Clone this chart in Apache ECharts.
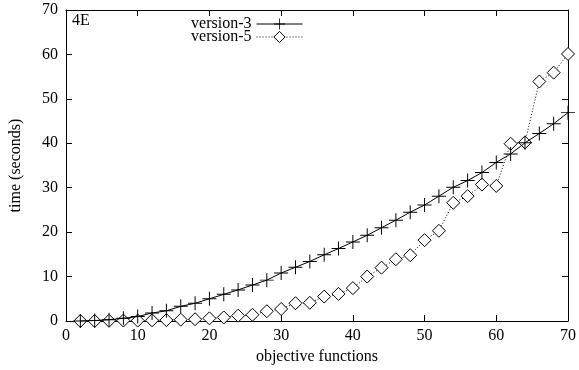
<!DOCTYPE html>
<html>
<head>
<meta charset="utf-8">
<script src="https://cdn.jsdelivr.net/npm/echarts@6/dist/echarts.min.js"></script>
<style>html,body{margin:0;padding:0;background:#fff}#c{width:579px;height:370px}</style>
</head>
<body>
<div id="c"></div>
<script>
const xValues = [2,4,6,8,10,12,14,16,18,20,22,24,26,28,30,32,34,36,38,40,42,44,46,48,50,52,54,56,58,60,62,64,66,68,70];
const version3 = [0,0.1,0.3,0.6,1.0,1.8,2.3,3.3,4.0,5.0,6.0,7.0,8.1,9.2,10.8,12.1,13.4,14.9,16.3,17.8,19.3,21.0,22.7,24.5,26.1,28.1,30.1,31.6,33.4,35.7,37.6,40.1,42.2,44.4,46.9];
const version5 = [0,0,0.05,0.1,0.1,0.15,0.2,0.3,0.4,0.6,0.8,1.2,1.4,2.2,2.7,4.0,4.1,5.5,6.1,7.4,10.0,12.0,13.9,14.8,18.2,20.3,26.6,28.1,30.7,30.4,39.9,40.2,53.9,55.9,60.1];
const seriesNames = ['version-3','version-5'];
const xTicks = [0,10,20,30,40,50,60,70];
const yTicks = [0,10,20,30,40,50,60,70];
const panelLabel = '4E';
const xTitle = 'objective functions';
const yTitle = 'time (seconds)';

const FONT = '"Liberation Serif", "DejaVu Serif", serif';
const plusPath = 'path://M0,0.465H1V0.535H0Z M0.465,0H0.535V1H0.465Z';
const chart = echarts.init(document.getElementById('c'), null, {renderer:'canvas'});
const axisCommon = {
  type:'value', min:xTicks[0], max:xTicks[xTicks.length-1], interval:10,
  axisLine:{show:true, onZero:false, lineStyle:{color:'#000', width:1}},
  axisTick:{show:true, inside:true, length:6, lineStyle:{color:'#000'}},
  splitLine:{show:false}
};
chart.setOption({
  animation:false,
  backgroundColor:'#fff',
  textStyle:{fontFamily:FONT},
  grid:{left:62, right:7, top:10, bottom:48, containLabel:false},
  legend:{
    orient:'vertical', right:271, top:11, align:'right', itemGap:-3,
    itemWidth:46, itemHeight:14,
    textStyle:{fontFamily:FONT, fontSize:16, color:'#000'},
    data:[
      {name:seriesNames[0], itemStyle:{color:'#000', borderWidth:0}, lineStyle:{width:1, color:'#000'}},
      {name:seriesNames[1], itemStyle:{color:'#fff', borderColor:'#000', borderWidth:1}, lineStyle:{width:1, color:'#000', type:[1,2]}}
    ]
  },
  graphic:[{type:'text', left:72, top:13, style:{text:panelLabel, font:'16px '+FONT, fill:'#000'}}],
  xAxis:[
    Object.assign({}, axisCommon, {position:'bottom', name:xTitle, nameLocation:'middle', nameGap:28,
      nameTextStyle:{fontFamily:FONT, fontSize:16, color:'#000'},
      axisLabel:{color:'#000', fontFamily:FONT, fontSize:16, margin:7}}),
    Object.assign({}, axisCommon, {position:'top', axisLabel:{show:false}})
  ],
  yAxis:[
    Object.assign({}, axisCommon, {min:yTicks[0], max:yTicks[yTicks.length-1], position:'left', name:yTitle, nameLocation:'middle', nameGap:42,
      nameTextStyle:{fontFamily:FONT, fontSize:16, color:'#000'},
      axisLabel:{color:'#000', fontFamily:FONT, fontSize:16, margin:8}}),
    Object.assign({}, axisCommon, {min:yTicks[0], max:yTicks[yTicks.length-1], position:'right', axisLabel:{show:false}})
  ],
  series:[
    {
      name:seriesNames[1], type:'line', xAxisIndex:0, yAxisIndex:0,
      data:xValues.map((x,i)=>[x,version5[i]]),
      symbol:'diamond', symbolSize:13,
      lineStyle:{color:'#000', width:1, type:[1,2]},
      itemStyle:{color:'#fff', borderColor:'#000', borderWidth:1},
      z:2
    },
    {
      name:seriesNames[0], type:'line', xAxisIndex:0, yAxisIndex:0,
      data:xValues.map((x,i)=>[x,version3[i]]),
      symbol:plusPath, symbolSize:14, symbolKeepAspect:true,
      lineStyle:{color:'#000', width:1},
      itemStyle:{color:'#000', borderWidth:0},
      z:3
    }
  ]
});
</script>
</body>
</html>
